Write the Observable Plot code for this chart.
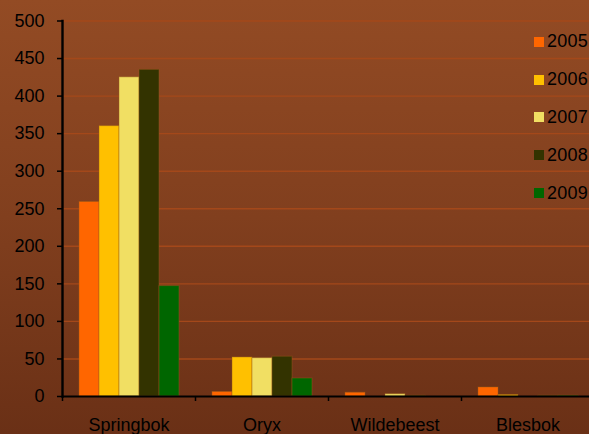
<!DOCTYPE html>
<html>
<head>
<meta charset="utf-8">
<script src="https://cdn.jsdelivr.net/npm/d3@7"></script>
<script src="https://cdn.jsdelivr.net/npm/@observablehq/plot@0.6"></script>
<style>
  html, body { margin: 0; padding: 0; overflow: hidden; }
  #wrap {
    position: relative; width: 589px; height: 434px; overflow: hidden;
    background: linear-gradient(to bottom, #934b24 0%, #813f1e 50%, #6a3016 100%);
    font-family: "Liberation Sans", Arial, sans-serif;
  }
  #chart svg { display: block; max-width: none !important; }
  #legend { position: absolute; left: 534px; top: 23px; }
  .item { display: flex; align-items: center; height: 37.8px; font-size: 18px; color: #000; letter-spacing: 0.2px; }
  .sw { width: 10px; height: 10px; margin-right: 3px; flex: none; }
</style>
</head>
<body>
<div id="wrap">
  <div id="chart"></div>
  <div id="legend"></div>
</div>
<script>
const categories = ["Springbok", "Oryx", "Wildebeest", "Blesbok"];
const years = ["2005", "2006", "2007", "2008", "2009"];
const v2005 = [259, 6, 5, 12];
const v2006 = [360, 52, 0, 2];
const v2007 = [425, 51, 3, 0];
const v2008 = [435, 53, 1, 1];
const v2009 = [147, 24, 0, 1];
const yTicks = [0, 50, 100, 150, 200, 250, 300, 350, 400, 450, 500];
const colors = ["#ff6600", "#ffc000", "#f1df63", "#333300", "#006600"];

const series = [v2005, v2006, v2007, v2008, v2009];
const data = [];
categories.forEach((c, i) => years.forEach((yr, j) => data.push({cat: c, year: yr, value: series[j][i]})));

const chart = Plot.plot({
  width: 594,
  height: 434,
  marginLeft: 62,
  marginRight: 0,
  marginTop: 20.5,
  marginBottom: 38,
  style: {background: "transparent", fontFamily: "'Liberation Sans', Arial, sans-serif", fontSize: "18px", color: "#000", overflow: "visible", maxWidth: "none"},
  y: {domain: [0, 500], ticks: yTicks},
  fx: {domain: categories, paddingInner: 0, paddingOuter: 0, label: null},
  x: {domain: years, paddingInner: 0, paddingOuter: 0.76, axis: null},
  color: {domain: years, range: colors},
  marks: [
    Plot.gridY(yTicks.slice(1), {stroke: "#a4481a", strokeOpacity: 1, strokeWidth: 1.4}),
    Plot.barY(data, {fx: "cat", x: "year", y: "value", fill: "year", stroke: "#9a5a1a", strokeOpacity: 0.45, strokeWidth: 1}),
    Plot.ruleY([0], {stroke: "#000", strokeWidth: 2.2}),
    Plot.frame({anchor: "left", facetAnchor: "left", stroke: "#000", strokeWidth: 2.4}),
    Plot.axisY(yTicks, {tickSize: 5, tickPadding: 13, label: null, stroke: "#000", strokeWidth: 1.5, letterSpacing: 0.2}),
    Plot.axisFx({anchor: "bottom", tickSize: 0, tickPadding: 22, label: null, letterSpacing: 0.4}),
    Plot.axisFx({anchor: "bottom", tickSize: 5, dx: -66.5, text: null, fill: "none", label: null, stroke: "#000", strokeWidth: 1.5})
  ]
});
document.getElementById("chart").appendChild(chart);

const legend = document.getElementById("legend");
years.forEach((yr, j) => {
  const it = document.createElement("div");
  it.className = "item";
  const sw = document.createElement("span");
  sw.className = "sw";
  sw.style.background = colors[j];
  const t = document.createElement("span");
  t.textContent = yr;
  it.appendChild(sw);
  it.appendChild(t);
  legend.appendChild(it);
});
</script>
</body>
</html>
